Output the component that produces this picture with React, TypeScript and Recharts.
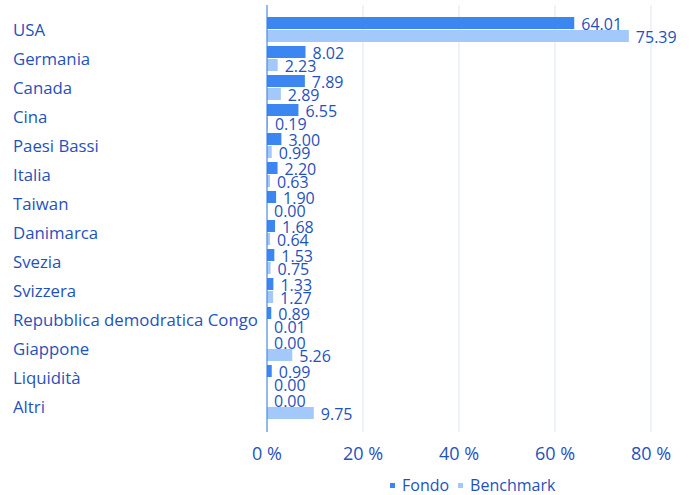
import { BarChart, Bar, XAxis, YAxis, CartesianGrid, LabelList } from "recharts"

const countries = [
  "USA",
  "Germania",
  "Canada",
  "Cina",
  "Paesi Bassi",
  "Italia",
  "Taiwan",
  "Danimarca",
  "Svezia",
  "Svizzera",
  "Repubblica demodratica Congo",
  "Giappone",
  "Liquidità",
  "Altri",
]
const fondo = [64.01, 8.02, 7.89, 6.55, 3.0, 2.2, 1.9, 1.68, 1.53, 1.33, 0.89, 0.0, 0.99, 0.0]
const benchmark = [75.39, 2.23, 2.89, 0.19, 0.99, 0.63, 0.0, 0.64, 0.75, 1.27, 0.01, 5.26, 0.0, 9.75]
const xTicks = [0, 20, 40, 60, 80]

const TEXT = "#1f52bd"
const FONDO = "#3b86f0"
const BENCH = "#a3c9fb"
const FONT = "'Open Sans', sans-serif"

const data = countries.map((name, i) => ({ name, Fondo: fondo[i], Benchmark: benchmark[i] }))

const CategoryTick = (props: any) => {
  const { y, payload } = props
  return (
    <text x={13} y={y} dy={6} textAnchor="start" fill={TEXT} fontSize={16.8} fontFamily={FONT}>
      {payload.value}
    </text>
  )
}

// value label drawn at the bar end, also for zero bars
const ValueLabel = (props: any) => {
  const { x, y, width, height, value } = props
  return (
    <text
      x={x + width + 7}
      y={y + height / 2}
      dy={7}
      textAnchor="start"
      fill={TEXT}
      fontSize={16}
      fontFamily={FONT}
    >
      {Number(value).toFixed(2)}
    </text>
  )
}

export default function App() {
  return (
    <div style={{ position: "absolute", left: 0, top: 0, width: 691, height: 495 }}>
      <BarChart
        width={691}
        height={495}
        data={data}
        layout="vertical"
        margin={{ top: 5, right: 40, bottom: 0, left: 0 }}
        barSize={12}
        barGap={1}
      >
        <CartesianGrid horizontal={false} stroke="#dde6f5" />
        <XAxis
          type="number"
          domain={[0, 80]}
          ticks={xTicks}
          tickFormatter={(v) => `${v} %`}
          axisLine={false}
          tickLine={false}
          height={63}
          tickMargin={9}
          tick={{ fill: TEXT, fontSize: 18, fontFamily: FONT }}
        />
        <YAxis
          type="category"
          dataKey="name"
          width={267}
          padding={{ top: 10, bottom: 11 }}
          axisLine={{ stroke: "#3d7de0" }}
          tickLine={false}
          tick={<CategoryTick />}
          interval={0}
        />
        <Bar dataKey="Fondo" fill={FONDO} minPointSize={0.01} isAnimationActive={false}>
          <LabelList dataKey="Fondo" content={<ValueLabel />} />
        </Bar>
        <Bar dataKey="Benchmark" fill={BENCH} minPointSize={0.01} isAnimationActive={false}>
          <LabelList dataKey="Benchmark" content={<ValueLabel />} />
        </Bar>
      </BarChart>
      <div
        style={{
          position: "absolute",
          top: 474,
          left: 390,
          display: "flex",
          alignItems: "center",
          fontFamily: FONT,
          fontSize: 16,
          color: TEXT,
          whiteSpace: "nowrap",
        }}
      >
        <span style={{ width: 5, height: 5, background: FONDO, marginRight: 7 }} />
        <span>Fondo</span>
        <span style={{ width: 5, height: 5, background: BENCH, marginLeft: 9, marginRight: 7 }} />
        <span>Benchmark</span>
      </div>
    </div>
  )
}
